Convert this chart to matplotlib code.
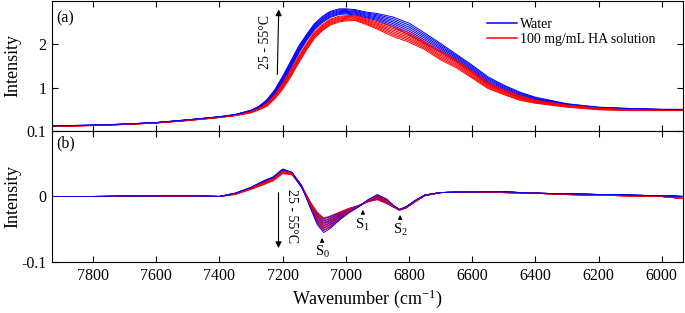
import numpy as np
import matplotlib
matplotlib.use("Agg")
import matplotlib.pyplot as plt

plt.rcParams['font.family'] = ['Liberation Serif', 'DejaVu Serif']
plt.rcParams['mathtext.fontset'] = 'custom'
plt.rcParams['mathtext.rm'] = 'Liberation Serif'
plt.rcParams['mathtext.it'] = 'Liberation Serif'
plt.rcParams['axes.unicode_minus'] = False

temps = [25, 30, 35, 40, 45, 50, 55]

# (a) raw spectra, one row per wavenumber, one column per temperature
wn_a = [7930, 7800, 7700, 7600, 7500, 7400, 7350, 7300, 7275, 7250, 7225, 7200,
        7175, 7150, 7125, 7100, 7075, 7050, 7020, 7000, 6970, 6940, 6900, 6850,
        6800, 6750, 6700, 6650, 6600, 6550, 6500, 6450, 6400, 6300, 6200, 6100,
        6000, 5933]

water_a = [
    [0.115, 0.116, 0.117, 0.118, 0.118, 0.119, 0.120],
    [0.130, 0.131, 0.132, 0.133, 0.133, 0.134, 0.135],
    [0.155, 0.156, 0.157, 0.158, 0.158, 0.159, 0.160],
    [0.190, 0.191, 0.192, 0.193, 0.193, 0.194, 0.195],
    [0.250, 0.252, 0.253, 0.255, 0.257, 0.258, 0.260],
    [0.320, 0.322, 0.323, 0.325, 0.327, 0.328, 0.330],
    [0.370, 0.372, 0.373, 0.375, 0.377, 0.378, 0.380],
    [0.450, 0.455, 0.460, 0.465, 0.470, 0.475, 0.480],
    [0.530, 0.537, 0.543, 0.550, 0.557, 0.563, 0.570],
    [0.640, 0.653, 0.667, 0.680, 0.693, 0.707, 0.720],
    [0.840, 0.858, 0.877, 0.895, 0.913, 0.932, 0.950],
    [1.100, 1.127, 1.153, 1.180, 1.207, 1.233, 1.260],
    [1.440, 1.467, 1.493, 1.520, 1.547, 1.573, 1.600],
    [1.780, 1.808, 1.837, 1.865, 1.893, 1.922, 1.950],
    [2.080, 2.103, 2.127, 2.150, 2.173, 2.197, 2.220],
    [2.330, 2.353, 2.377, 2.400, 2.423, 2.447, 2.470],
    [2.500, 2.523, 2.547, 2.570, 2.593, 2.617, 2.640],
    [2.620, 2.643, 2.667, 2.690, 2.713, 2.737, 2.760],
    [2.690, 2.712, 2.733, 2.755, 2.777, 2.798, 2.820],
    [2.700, 2.720, 2.740, 2.760, 2.780, 2.800, 2.820],
    [2.680, 2.700, 2.720, 2.740, 2.760, 2.780, 2.800],
    [2.620, 2.642, 2.663, 2.685, 2.707, 2.728, 2.750],
    [2.550, 2.577, 2.603, 2.630, 2.657, 2.683, 2.710],
    [2.400, 2.438, 2.477, 2.515, 2.553, 2.592, 2.630],
    [2.220, 2.265, 2.310, 2.355, 2.400, 2.445, 2.490],
    [2.020, 2.060, 2.100, 2.140, 2.180, 2.220, 2.260],
    [1.820, 1.853, 1.887, 1.920, 1.953, 1.987, 2.020],
    [1.600, 1.628, 1.657, 1.685, 1.713, 1.742, 1.770],
    [1.350, 1.378, 1.407, 1.435, 1.463, 1.492, 1.520],
    [1.080, 1.108, 1.137, 1.165, 1.193, 1.222, 1.250],
    [0.920, 0.943, 0.967, 0.990, 1.013, 1.037, 1.060],
    [0.780, 0.800, 0.820, 0.840, 0.860, 0.880, 0.900],
    [0.690, 0.705, 0.720, 0.735, 0.750, 0.765, 0.780],
    [0.580, 0.588, 0.597, 0.605, 0.613, 0.622, 0.630],
    [0.520, 0.525, 0.530, 0.535, 0.540, 0.545, 0.550],
    [0.500, 0.503, 0.507, 0.510, 0.513, 0.517, 0.520],
    [0.490, 0.492, 0.493, 0.495, 0.497, 0.498, 0.500],
    [0.480, 0.483, 0.487, 0.490, 0.493, 0.497, 0.500],
]

ha_a = [
    [0.110, 0.111, 0.112, 0.113, 0.113, 0.114, 0.115],
    [0.125, 0.126, 0.127, 0.128, 0.128, 0.129, 0.130],
    [0.150, 0.151, 0.152, 0.153, 0.153, 0.154, 0.155],
    [0.185, 0.186, 0.187, 0.188, 0.188, 0.189, 0.190],
    [0.240, 0.242, 0.243, 0.245, 0.247, 0.248, 0.250],
    [0.310, 0.312, 0.313, 0.315, 0.317, 0.318, 0.320],
    [0.355, 0.357, 0.358, 0.360, 0.362, 0.363, 0.365],
    [0.420, 0.423, 0.427, 0.430, 0.433, 0.437, 0.440],
    [0.490, 0.495, 0.500, 0.505, 0.510, 0.515, 0.520],
    [0.570, 0.582, 0.593, 0.605, 0.617, 0.628, 0.640],
    [0.740, 0.755, 0.770, 0.785, 0.800, 0.815, 0.830],
    [0.960, 0.983, 1.007, 1.030, 1.053, 1.077, 1.100],
    [1.240, 1.267, 1.293, 1.320, 1.347, 1.373, 1.400],
    [1.560, 1.587, 1.613, 1.640, 1.667, 1.693, 1.720],
    [1.860, 1.885, 1.910, 1.935, 1.960, 1.985, 2.010],
    [2.130, 2.155, 2.180, 2.205, 2.230, 2.255, 2.280],
    [2.310, 2.333, 2.357, 2.380, 2.403, 2.427, 2.450],
    [2.440, 2.463, 2.487, 2.510, 2.533, 2.557, 2.580],
    [2.520, 2.542, 2.563, 2.585, 2.607, 2.628, 2.650],
    [2.540, 2.560, 2.580, 2.600, 2.620, 2.640, 2.660],
    [2.550, 2.570, 2.590, 2.610, 2.630, 2.650, 2.670],
    [2.470, 2.492, 2.513, 2.535, 2.557, 2.578, 2.600],
    [2.350, 2.378, 2.407, 2.435, 2.463, 2.492, 2.520],
    [2.180, 2.217, 2.253, 2.290, 2.327, 2.363, 2.400],
    [2.050, 2.087, 2.123, 2.160, 2.197, 2.233, 2.270],
    [1.880, 1.910, 1.940, 1.970, 2.000, 2.030, 2.060],
    [1.640, 1.673, 1.707, 1.740, 1.773, 1.807, 1.840],
    [1.460, 1.490, 1.520, 1.550, 1.580, 1.610, 1.640],
    [1.220, 1.247, 1.273, 1.300, 1.327, 1.353, 1.380],
    [0.980, 1.003, 1.027, 1.050, 1.073, 1.097, 1.120],
    [0.840, 0.858, 0.877, 0.895, 0.913, 0.932, 0.950],
    [0.710, 0.728, 0.747, 0.765, 0.783, 0.802, 0.820],
    [0.640, 0.652, 0.663, 0.675, 0.687, 0.698, 0.710],
    [0.550, 0.558, 0.567, 0.575, 0.583, 0.592, 0.600],
    [0.490, 0.497, 0.503, 0.510, 0.517, 0.523, 0.530],
    [0.470, 0.475, 0.480, 0.485, 0.490, 0.495, 0.500],
    [0.470, 0.473, 0.477, 0.480, 0.483, 0.487, 0.490],
    [0.470, 0.473, 0.477, 0.480, 0.483, 0.487, 0.490],
]

# (b) second derivative-like spectra
wn_b = [7930, 7800, 7700, 7600, 7500, 7400, 7350, 7300, 7260, 7230, 7200, 7170,
        7140, 7110, 7090, 7070, 7050, 7020, 6990, 6960, 6930, 6900, 6870, 6850,
        6830, 6810, 6780, 6750, 6700, 6600, 6500, 6400, 6300, 6200, 6100, 6000, 5933]

water_b = [
    [0.000, 0.000, 0.000, 0.000, 0.000, 0.000, 0.000],
    [0.000, 0.000, 0.000, 0.000, 0.000, 0.000, 0.000],
    [0.0005, 0.0005, 0.0005, 0.0005, 0.0005, 0.0005, 0.0005],
    [0.001, 0.001, 0.001, 0.001, 0.001, 0.001, 0.001],
    [0.001, 0.001, 0.001, 0.001, 0.001, 0.001, 0.001],
    [0.000, 0.000, 0.000, 0.000, 0.000, 0.000, 0.000],
    [0.004, 0.004, 0.004, 0.0045, 0.005, 0.005, 0.005],
    [0.012, 0.012, 0.013, 0.013, 0.013, 0.014, 0.014],
    [0.021, 0.0215, 0.022, 0.0225, 0.023, 0.0235, 0.024],
    [0.026, 0.027, 0.027, 0.028, 0.029, 0.029, 0.030],
    [0.038, 0.0387, 0.0393, 0.040, 0.0407, 0.0413, 0.042],
    [0.034, 0.0345, 0.035, 0.0355, 0.036, 0.0365, 0.037],
    [0.014, 0.0143, 0.0147, 0.015, 0.0153, 0.0157, 0.016],
    [-0.012, -0.0133, -0.0147, -0.016, -0.0173, -0.0187, -0.020],
    [-0.026, -0.0288, -0.0317, -0.0345, -0.0373, -0.0402, -0.043],
    [-0.034, -0.0375, -0.041, -0.0445, -0.048, -0.0515, -0.055],
    [-0.031, -0.034, -0.037, -0.040, -0.043, -0.046, -0.049],
    [-0.025, -0.0268, -0.0287, -0.0305, -0.0323, -0.0342, -0.036],
    [-0.019, -0.020, -0.021, -0.022, -0.023, -0.024, -0.025],
    [-0.014, -0.0143, -0.0147, -0.015, -0.0153, -0.0157, -0.016],
    [-0.008, -0.0075, -0.007, -0.0065, -0.006, -0.0055, -0.005],
    [-0.004, -0.0028, -0.0017, -0.0005, 0.0007, 0.0018, 0.003],
    [-0.010, -0.009, -0.008, -0.007, -0.006, -0.005, -0.004],
    [-0.016, -0.0155, -0.015, -0.0145, -0.014, -0.0135, -0.013],
    [-0.020, -0.020, -0.020, -0.020, -0.020, -0.020, -0.020],
    [-0.017, -0.017, -0.0167, -0.0165, -0.0163, -0.016, -0.016],
    [-0.007, -0.007, -0.0068, -0.0065, -0.0063, -0.006, -0.006],
    [0.002, 0.002, 0.002, 0.002, 0.002, 0.002, 0.002],
    [0.006, 0.006, 0.006, 0.006, 0.006, 0.006, 0.006],
    [0.007, 0.007, 0.007, 0.007, 0.007, 0.007, 0.007],
    [0.007, 0.007, 0.007, 0.007, 0.007, 0.007, 0.007],
    [0.005, 0.005, 0.005, 0.005, 0.005, 0.005, 0.005],
    [0.004, 0.004, 0.004, 0.004, 0.004, 0.004, 0.004],
    [0.003, 0.003, 0.003, 0.003, 0.003, 0.003, 0.003],
    [0.002, 0.002, 0.002, 0.002, 0.002, 0.002, 0.002],
    [0.001, 0.001, 0.001, 0.001, 0.001, 0.001, 0.001],
    [0.000, 0.000, 0.000, 0.000, 0.000, 0.000, 0.000],
]

ha_b = [
    [0.000, 0.000, 0.000, 0.000, 0.000, 0.000, 0.000],
    [0.000, 0.000, 0.000, 0.000, 0.000, 0.000, 0.000],
    [0.000, 0.000, 0.000, 0.000, 0.000, 0.000, 0.000],
    [0.001, 0.001, 0.001, 0.001, 0.001, 0.001, 0.001],
    [0.0005, 0.0005, 0.0005, 0.0005, 0.0005, 0.0005, 0.0005],
    [0.000, 0.000, 0.000, 0.000, 0.000, 0.000, 0.000],
    [0.003, 0.0035, 0.0035, 0.004, 0.004, 0.0045, 0.0045],
    [0.011, 0.0113, 0.0117, 0.012, 0.0123, 0.0127, 0.013],
    [0.018, 0.0185, 0.019, 0.0195, 0.020, 0.0205, 0.021],
    [0.024, 0.0245, 0.025, 0.0255, 0.026, 0.0265, 0.027],
    [0.035, 0.0357, 0.0363, 0.037, 0.0377, 0.0383, 0.039],
    [0.033, 0.0335, 0.034, 0.0345, 0.035, 0.0355, 0.036],
    [0.016, 0.0162, 0.0163, 0.0165, 0.0167, 0.0168, 0.017],
    [-0.010, -0.0113, -0.0127, -0.014, -0.0153, -0.0167, -0.018],
    [-0.024, -0.0268, -0.0297, -0.0325, -0.0353, -0.0382, -0.041],
    [-0.033, -0.0362, -0.0393, -0.0425, -0.0457, -0.0488, -0.052],
    [-0.030, -0.0328, -0.0357, -0.0385, -0.0413, -0.0442, -0.047],
    [-0.024, -0.0258, -0.0277, -0.0295, -0.0313, -0.0332, -0.035],
    [-0.018, -0.019, -0.020, -0.021, -0.022, -0.023, -0.024],
    [-0.014, -0.0143, -0.0147, -0.015, -0.0153, -0.0157, -0.016],
    [-0.008, -0.0077, -0.0073, -0.007, -0.0067, -0.0063, -0.006],
    [-0.005, -0.0038, -0.0027, -0.0015, -0.0003, 0.0008, 0.002],
    [-0.011, -0.010, -0.009, -0.008, -0.007, -0.006, -0.005],
    [-0.016, -0.0157, -0.0153, -0.015, -0.0147, -0.0143, -0.014],
    [-0.021, -0.0208, -0.0207, -0.0205, -0.0203, -0.0202, -0.020],
    [-0.018, -0.0178, -0.0175, -0.0172, -0.017, -0.0168, -0.0165],
    [-0.008, -0.0078, -0.0075, -0.0072, -0.007, -0.0068, -0.0065],
    [0.001, 0.001, 0.0015, 0.0015, 0.0015, 0.002, 0.002],
    [0.006, 0.006, 0.006, 0.006, 0.006, 0.006, 0.006],
    [0.007, 0.007, 0.007, 0.007, 0.007, 0.007, 0.007],
    [0.006, 0.006, 0.006, 0.006, 0.006, 0.006, 0.006],
    [0.005, 0.005, 0.005, 0.005, 0.005, 0.005, 0.005],
    [0.003, 0.003, 0.003, 0.003, 0.003, 0.003, 0.003],
    [0.002, 0.002, 0.002, 0.002, 0.002, 0.002, 0.002],
    [0.001, 0.001, 0.001, 0.001, 0.001, 0.001, 0.001],
    [0.000, 0.000, 0.000, 0.000, 0.000, 0.000, 0.000],
    [-0.003, -0.003, -0.003, -0.003, -0.003, -0.003, -0.003],
]

x_ticks = [7800, 7600, 7400, 7200, 7000, 6800, 6600, 6400, 6200, 6000]
blue = '#0000ff'
red = '#ff0000'

fig = plt.figure(figsize=(6.85, 3.13), dpi=100)
ax1 = fig.add_axes([0.0759, 0.5815, 0.921, 0.4153])
ax2 = fig.add_axes([0.0759, 0.1630, 0.921, 0.4185], sharex=ax1)

wa, ha = np.array(water_a), np.array(ha_a)
wb, hb = np.array(water_b), np.array(ha_b)
for k in range(len(temps)):
    ax1.plot(wn_a, ha[:, k], color=red, lw=0.7)
    ax1.plot(wn_a, wa[:, k], color=blue, lw=0.7)
    ax2.plot(wn_b, hb[:, k], color=red, lw=0.7)
    ax2.plot(wn_b, wb[:, k], color=blue, lw=0.7)

for ax in (ax1, ax2):
    ax.set_xlim(7930, 5933)
    ax.set_xticks(x_ticks)
    ax.tick_params(direction='in', top=True, right=True, length=4, width=0.8,
                   labelsize=11.5, pad=4)
    for s in ax.spines.values():
        s.set_linewidth(0.8)
    ax.set_ylabel('Intensity', fontsize=13, labelpad=2)

ax1.set_ylim(0, 3.0)
ax1.set_yticks([1, 2])
ax1.tick_params(labelbottom=False)
ax2.set_ylim(-0.1, 0.1)
ax2.set_yticks([-0.1, 0, 0.1])
ax2.set_yticklabels(['-0.1', '0', '0.1'])
ax2.set_xlabel('Wavenumber (cm$^{-1}$)', fontsize=13, labelpad=3)
ax1.yaxis.set_label_coords(-0.048, 0.5)
ax2.yaxis.set_label_coords(-0.048, 0.5)

leg_handles = [plt.Line2D([], [], color=blue, lw=1.1),
               plt.Line2D([], [], color=red, lw=1.1)]
ax1.legend(leg_handles, ['Water', '100 mg/mL HA solution'], loc='upper left',
           bbox_to_anchor=(0.68, 0.91), frameon=False, fontsize=10, handlelength=2.2,
           handletextpad=0.2, labelspacing=0.15, borderaxespad=0)

ax1.text(0.006, 0.93, '(a)', transform=ax1.transAxes, fontsize=11.5, va='top')
ax2.text(0.006, 0.97, '(b)', transform=ax2.transAxes, fontsize=11.5, va='top')

# temperature arrows
ax1.annotate('', xy=(7212, 2.87), xytext=(7217, 1.24),
             arrowprops=dict(arrowstyle='-|>', color='black', lw=0.8, mutation_scale=9))
ax1.text(7255, 2.05, '25 - 55°C', rotation=90, fontsize=10, ha='center', va='center')
ax2.annotate('', xy=(7213, -0.083), xytext=(7213, 0.010),
             arrowprops=dict(arrowstyle='-|>', color='black', lw=0.8, mutation_scale=9))
ax2.text(7172, -0.030, '25 - 55°C', rotation=270, fontsize=10, ha='center', va='center')

# band labels
peaks = [(7075, -0.059, -0.073, 'S$_0$'), (6946, -0.016, -0.031, 'S$_1$'),
         (6828, -0.024, -0.039, 'S$_2$')]
for px, py, ty, lab in peaks:
    ax2.annotate('', xy=(px, py), xytext=(px, ty + 0.001),
                 arrowprops=dict(arrowstyle='-|>', color='black', lw=0.7, mutation_scale=6))
    ax2.text(px, ty, lab, fontsize=10.5, ha='center', va='top')

fig.savefig('out.png', dpi=100)
